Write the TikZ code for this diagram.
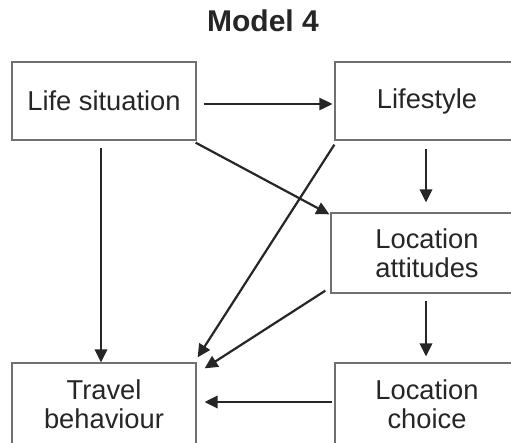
\documentclass[tikz,border=0pt]{standalone}
\usepackage{fontspec}
\setmainfont{Liberation Sans}
\usetikzlibrary{arrows.meta}
\definecolor{boxline}{HTML}{707070}
\definecolor{ink}{HTML}{262626}
\begin{document}
\begin{tikzpicture}[x=1pt,y=-1pt,
  box/.style={draw=boxline,line width=1.3pt,inner sep=0pt,align=center,
    text=ink,font=\fontsize{27.3}{29}\selectfont},
  link/.style={draw=ink,line width=2.2pt,-{Triangle[length=13pt,width=12.5pt]}},
  thinlink/.style={draw=ink,line width=1.4pt,-{Triangle[length=13pt,width=12.5pt]}}]
\useasboundingbox (0,0) rectangle (511,442);
\clip (0,0) rectangle (511,442);
\fill[white] (0,0) rectangle (511,442);

% title
\node[anchor=base,text=ink,font=\bfseries\fontsize{30}{34}\selectfont] (title) at (263,31.5) {Model 4};

% boxes
\node[box,minimum width=184pt,minimum height=78pt] (ls) at (104,101) {Life situation};
\node[box,minimum width=184pt,minimum height=78pt] (lf) at (427,101) {Lifestyle};
\node[box,minimum width=192pt,minimum height=80pt] (la) at (427,253) {Location\\attitudes};
\node[box,minimum width=184pt,minimum height=82pt] (tb) at (104,404) {Travel\\behaviour};
\node[box,minimum width=184pt,minimum height=82pt] (lc) at (427,404) {Location\\choice};

% connectors
\draw[thinlink] ([xshift=7pt,yshift=-3pt]ls.east) -- ([xshift=-2pt,yshift=-3pt]lf.west);
\draw[link] ([xshift=-3pt,yshift=-7pt]ls.south) -- ([xshift=-3pt]tb.north);
\draw[link] ([xshift=-1pt,yshift=-2pt]ls.south east) -- ([xshift=-1pt,yshift=-2pt]la.north west);
\draw[link] ([yshift=-4pt]lf.south west) -- ([xshift=1pt,yshift=5pt]tb.north east);
\draw[link] ([xshift=-1pt,yshift=-8pt]lf.south) -- ([xshift=-1pt,yshift=10pt]la.north);
\draw[link] ([xshift=-5pt,yshift=3pt]la.south west) -- ([xshift=8pt,yshift=-6pt]tb.north east);
\draw[link] ([xshift=-1pt,yshift=-7pt]la.south) -- ([xshift=-1pt,yshift=6pt]lc.north);
\draw[link] ([xshift=-2pt,yshift=2pt]lc.west) -- ([xshift=8pt,yshift=2pt]tb.east);
\end{tikzpicture}
\end{document}
